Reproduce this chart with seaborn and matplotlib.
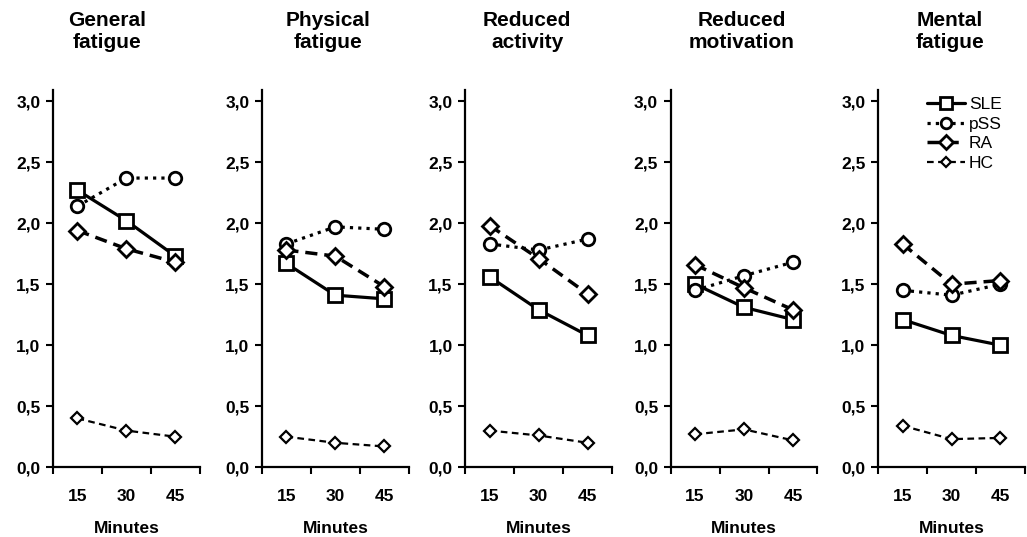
import numpy as np
import pandas as pd
import matplotlib
matplotlib.use("Agg")
import matplotlib.pyplot as plt
import seaborn as sns

panels = ["General\nfatigue", "Physical\nfatigue", "Reduced\nactivity",
          "Reduced\nmotivation", "Mental\nfatigue"]
minutes = ["15", "30", "45"]
groups = ["SLE", "pSS", "RA", "HC"]

sle = [[2.27, 2.02, 1.73], [1.67, 1.41, 1.38], [1.56, 1.29, 1.08],
       [1.50, 1.31, 1.21], [1.21, 1.08, 1.00]]
pss = [[2.14, 2.37, 2.37], [1.83, 1.97, 1.95], [1.83, 1.78, 1.87],
       [1.45, 1.57, 1.68], [1.45, 1.41, 1.50]]
ra = [[1.94, 1.79, 1.68], [1.78, 1.73, 1.48], [1.98, 1.71, 1.42],
      [1.66, 1.47, 1.29], [1.83, 1.50, 1.53]]
hc = [[0.40, 0.30, 0.25], [0.25, 0.20, 0.17], [0.30, 0.26, 0.20],
      [0.27, 0.31, 0.22], [0.34, 0.23, 0.24]]

values = {"SLE": sle, "pSS": pss, "RA": ra, "HC": hc}

styles = {
    "SLE": dict(linestyle="-", marker="s", markersize=10, linewidth=2.3, markeredgewidth=2.0),
    "pSS": dict(linestyle=(0, (1, 1.6)), marker="o", markersize=9, linewidth=2.3, markeredgewidth=2.0),
    "RA": dict(linestyle=(0, (3.5, 2)), marker="D", markersize=8, linewidth=2.5, markeredgewidth=2.0),
    "HC": dict(linestyle=(0, (3, 2)), marker="D", markersize=6, linewidth=1.6, markeredgewidth=1.6),
}

rows = []
for p, name in enumerate(panels):
    for g in groups:
        for i, m in enumerate(minutes):
            rows.append({"panel": p, "group": g, "pos": i + 0.5, "score": values[g][p][i]})
df = pd.DataFrame(rows)

sns.set_style("ticks", {"axes.edgecolor": "black", "xtick.color": "black",
                        "ytick.color": "black", "text.color": "black",
                        "axes.labelcolor": "black"})
plt.rcParams["font.family"] = ["Liberation Sans", "DejaVu Sans"]

fig = plt.figure(figsize=(10.27, 5.37), dpi=100)
lefts = [0.0516, 0.255, 0.453, 0.653, 0.855]
title_x = [107, 328, 527, 742, 950]

for p, name in enumerate(panels):
    ax = fig.add_axes([lefts[p], 0.130, 0.143, 0.702])
    sub = df[df.panel == p]
    for g in groups:
        d = sub[sub.group == g]
        sns.lineplot(data=d, x="pos", y="score", ax=ax, color="black",
                     markerfacecolor="white", markeredgecolor="black",
                     label=g, legend=False, **styles[g])
    ax.set_xlim(0, 3)
    ax.set_ylim(0, 3.09)
    ax.set_xticks([0, 1, 2, 3])
    ax.set_xticklabels([])
    ax.set_xticks([0.5, 1.5, 2.5], minor=True)
    ax.set_xticklabels(minutes, minor=True, fontsize=12.5, fontweight="bold")
    ax.tick_params(axis="x", which="minor", length=0, pad=16)
    ax.tick_params(axis="x", which="major", length=5, width=1.5, direction="out")
    ax.set_yticks([0, 0.5, 1.0, 1.5, 2.0, 2.5, 3.0])
    ax.set_yticklabels([f"{v:.1f}".replace(".", ",") for v in ax.get_yticks()],
                       fontsize=12.5, fontweight="bold")
    ax.tick_params(axis="y", length=5, width=1.5, direction="out", pad=4)
    for s in ["left", "bottom"]:
        ax.spines[s].set_linewidth(1.6)
    sns.despine(ax=ax)
    ax.set_xlabel("Minutes", fontsize=12.5, fontweight="bold", labelpad=12)
    ax.set_ylabel("")
    fig.text(title_x[p] / 1027, 1 - 11 / 537, name, ha="center", va="top",
             fontsize=15, fontweight="bold", linespacing=1.2, color="black")
    if p == len(panels) - 1:
        ax.legend(loc="upper right", frameon=False, fontsize=12.5, handlelength=2.2,
                  handletextpad=0.2, labelspacing=0.25, borderaxespad=0.0,
                  markerscale=0.85, bbox_to_anchor=(0.89, 1.0))

fig.savefig("out.png", dpi=100)
